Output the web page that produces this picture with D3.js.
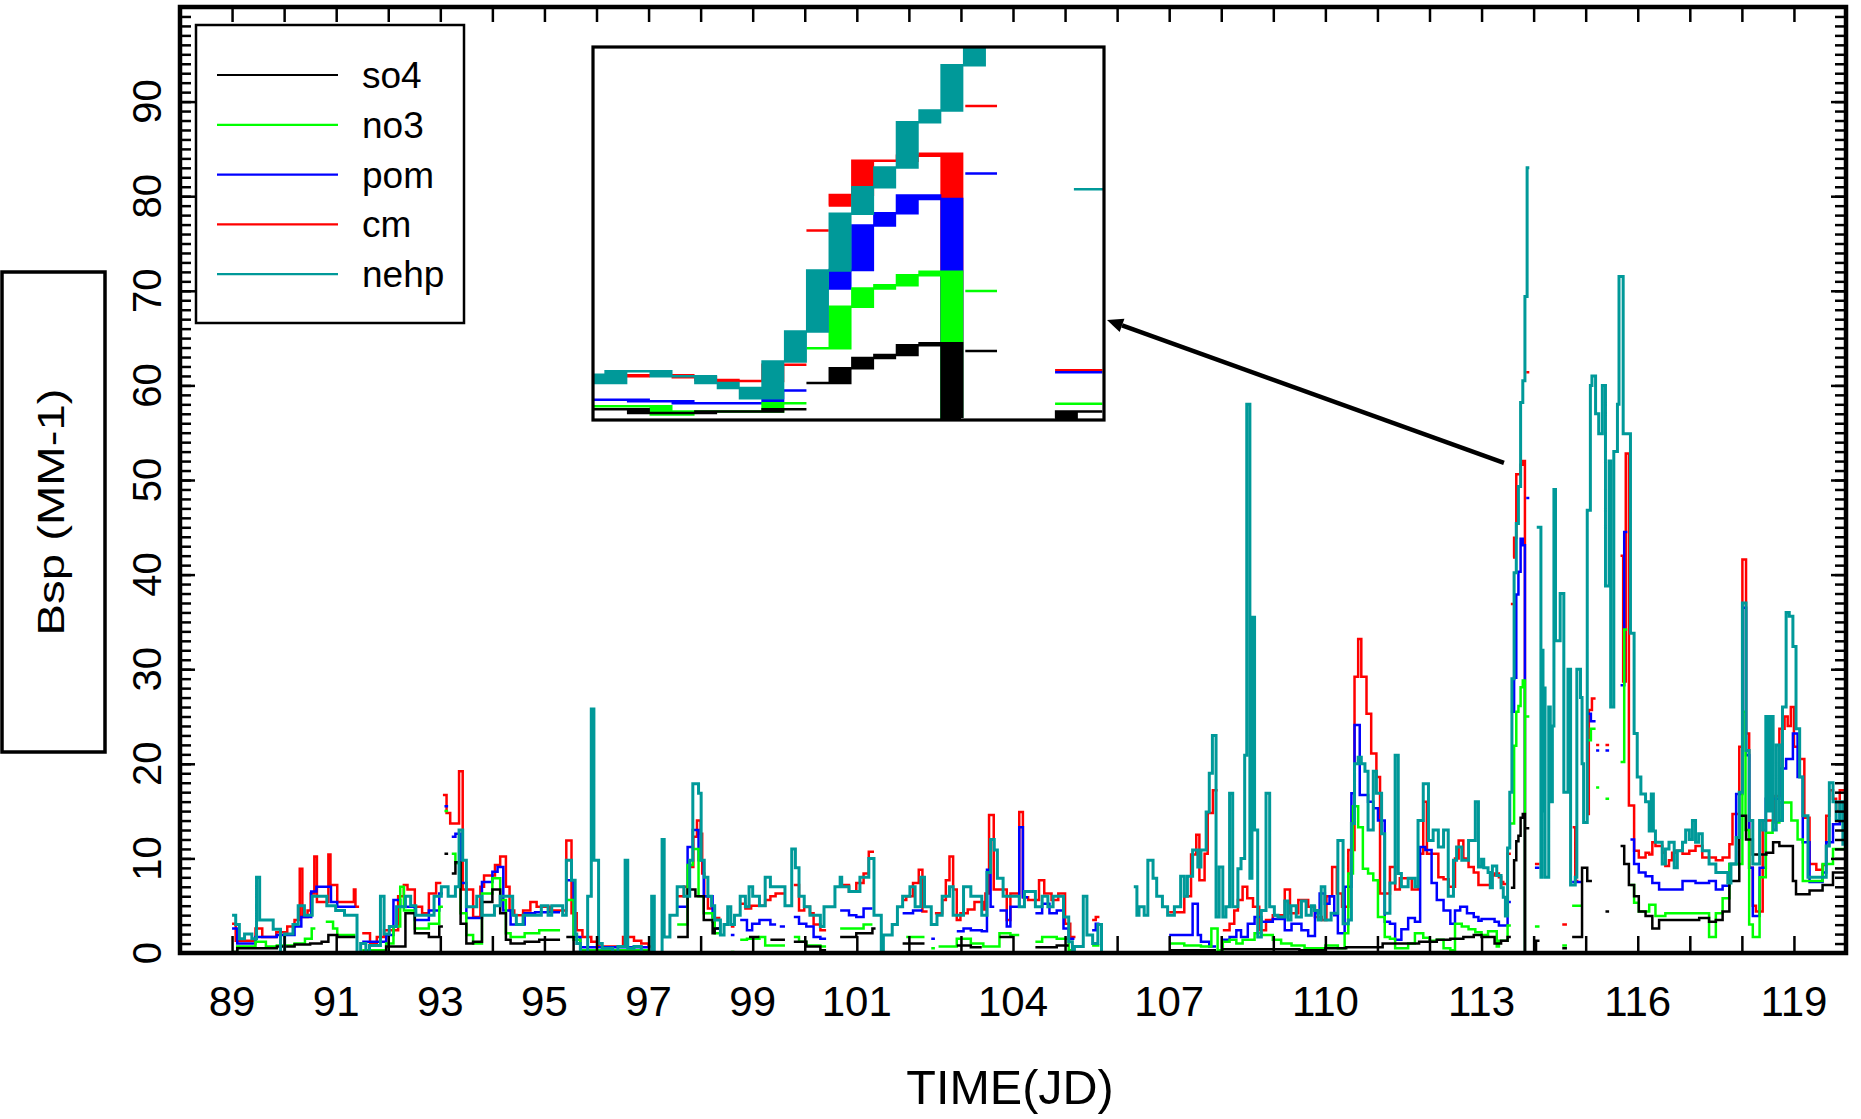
<!DOCTYPE html>
<html>
<head>
<meta charset="utf-8">
<script src="https://cdn.jsdelivr.net/npm/d3@7"></script>
<style>
  html, body { margin: 0; padding: 0; background: #fff; }
  svg { display: block; }
  text { font-family: "Liberation Sans", Arial, Helvetica, sans-serif; fill: #000; }
</style>
</head>
<body>
<svg id="chart" width="1861" height="1119"></svg>
<script>
// ---- series definitions ----
const seriesNames  = ["so4", "no3", "pom", "cm", "nehp"];
const seriesColors = ["#000000", "#00ff00", "#0000ff", "#ff0000", "#009999"];

// ---- axis labels ----
const xTickLabels = [89, 91, 93, 95, 97, 99, 101, 104, 107, 110, 113, 116, 119];
const yTickLabels = [0, 10, 20, 30, 40, 50, 60, 70, 80, 90];
const xTitle = "TIME(JD)";
const yTitle = "Bsp (MM-1)";

// ---- data: [julian day, Bsp]; each value holds until the next entry, null starts a gap ----
const so4 = [
  [89.00,0.1],[89.10,0.5],[89.86,0.7],[90.20,0.9],[90.50,1.0],[90.72,1.2],[90.85,1.9],[91.02,1.7],[91.37,null],
  [91.50,0.1],[91.96,0.7],[92.33,4.2],[92.51,2.1],[92.78,1.7],[92.98,2.8],[93.05,null],[93.08,10.5],[93.15,null],
  [93.22,8.4],[93.29,9.6],[93.39,3.1],[93.50,1.0],[93.63,1.2],[93.80,5.4],[94.00,6.7],[94.15,4.2],[94.26,1.4],
  [94.35,1.0],[94.62,1.2],[94.90,1.4],[95.30,null],[95.42,1.7],[95.56,0.1],[97.00,null],[97.55,1.7],[97.75,6.7],
  [97.90,6.0],[98.06,3.5],[98.23,2.1],[98.27,2.6],[98.38,null],[98.93,1.7],[99.13,null],[99.34,1.4],[99.62,null],
  [99.79,1.2],[100.03,0.7],[100.30,0.3],[100.41,null],[100.68,1.7],[100.99,2.1],[101.30,2.6],[101.36,null],
  [101.88,1.0],[102.30,null],[102.92,0.8],[103.19,0.6],[103.40,null],[103.74,1.7],[104.00,null],[104.43,0.6],
  [104.84,0.8],[105.07,null],[107.00,0.3],[107.90,null],[108.03,0.4],[109.50,0.3],[110.00,0.5],[110.40,0.6],
  [111.10,1.0],[111.80,1.2],[112.14,1.4],[112.40,1.5],[112.65,1.7],[112.85,1.9],
  [113.000,1.7],[113.250,1.0],[113.375,1.3],[113.500,1.7],[113.5625,null],[113.5625,6.9],[113.625,9.8],
  [113.667,11.8],[113.708,12.4],[113.750,14.3],[113.792,14.7],[113.833,0],[113.850,null],[113.858,13.2],[113.917,null],
  [114.025,0],[114.046,1.3],[114.113,null],[114.55,0.5],[114.64,null],[114.74,1.7],[114.93,9.0],[115.03,7.6],
  [115.12,null],[115.38,4.4],[115.45,null],[115.67,11.3],[115.74,9.4],[115.83,7.2],[115.93,6.0],[116.02,4.4],
  [116.15,3.9],[116.28,2.6],[116.41,3.5],[116.66,3.5],[116.92,3.5],[117.18,3.7],[117.37,3.3],[117.50,3.5],
  [117.63,4.4],[117.76,7.6],[117.95,14.5],[118.08,12.0],[118.21,10.4],[118.47,10.6],[118.60,11.7],[118.72,11.3],
  [118.98,7.6],[119.04,6.2],[119.30,6.6],[119.55,7.2],[119.75,8.5],[119.97,null]
];

const no3 = [
  [89.00,0.1],[89.10,0.7],[89.45,1.2],[89.65,0.7],[89.86,0.8],[90.20,1.0],[90.40,1.5],[90.53,2.6],[90.60,null],
  [90.80,3.3],[90.94,2.6],[91.02,1.9],[91.37,null],[91.50,0.3],[91.96,1.0],[92.10,2.8],[92.23,7.0],[92.30,4.5],
  [92.51,2.6],[92.78,3.1],[92.98,4.9],[93.05,null],[93.08,15.0],[93.15,null],[93.22,10.5],[93.29,9.5],[93.39,4.2],
  [93.50,1.9],[93.63,1.0],[93.80,6.3],[94.00,7.9],[94.15,5.6],[94.26,2.1],[94.35,1.7],[94.62,2.1],[94.90,2.4],
  [95.30,null],[95.42,5.6],[95.56,1.4],[95.69,0.3],[97.00,null],[97.55,3.0],[97.75,9.3],[97.85,11.0],[97.96,6.0],
  [98.06,4.2],[98.23,3.3],[98.27,2.1],[98.38,null],[98.58,0.1],[98.65,null],[98.76,1.4],[98.89,1.5],[99.13,1.7],
  [99.24,0.8],[99.62,null],[99.79,1.7],[99.89,1.2],[100.03,0.8],[100.30,0.7],[100.41,null],[100.68,2.6],
  [100.99,2.6],[101.13,3.0],[101.30,null],[101.95,1.7],[102.30,null],[102.43,0.5],[102.50,null],[102.57,0.7],
  [102.92,1.5],[103.19,1.0],[103.43,0.7],[103.74,2.1],[103.95,1.9],[104.12,null],[104.43,1.2],[104.56,1.7],
  [104.84,1.5],[105.07,0.3],[105.18,null],[105.52,0.8],[105.66,null],[107.00,1.0],[107.29,0.8],[107.61,0.7],
  [107.81,2.6],[107.93,0.3],[108.03,1.2],[108.16,1.4],[108.29,1.0],[108.41,1.4],[108.64,2.1],[108.77,1.9],
  [108.99,1.4],[109.15,1.0],[109.35,0.8],[109.60,0.5],[110.00,0.8],[110.24,0.5],[110.37,2.1],[110.44,8.4],
  [110.53,15.5],[110.63,13.3],[110.72,8.9],[110.82,8.4],[110.92,7.7],[111.01,3.8],[111.14,1.7],[111.24,1.5],
  [111.34,0.5],[111.59,1.0],[111.72,2.1],[111.88,1.6],[112.00,1.3],[112.14,1.4],[112.27,0.5],[112.40,0.3],
  [112.49,3.1],[112.62,2.8],[112.75,2.5],[112.88,2.2],
  [113.000,1.9],[113.125,2.3],[113.292,0.7],[113.333,1.3],[113.500,2.9],[113.5625,null],[113.5625,13.7],
  [113.625,21.9],[113.667,25.5],[113.708,26.1],[113.750,28.1],[113.792,28.8],[113.833,0],[113.850,null],
  [113.858,25.0],[113.917,null],
  [114.025,2.8],[114.113,null],[114.55,0.8],[114.64,null],[114.74,5.0],[114.93,null],[115.03,22.5],[115.10,23.7],
  [115.19,null],[115.20,17.5],[115.26,null],[115.38,16.3],[115.45,null],[115.67,20.2],[115.74,34.2],[115.80,null],
  [115.86,7.2],[115.93,5.3],[116.02,4.4],[116.22,5.1],[116.34,3.9],[116.53,4.2],[116.79,4.2],[116.99,4.2],
  [117.37,1.7],[117.50,4.2],[117.63,5.8],[117.76,9.4],[118.01,25.5],[118.07,13.0],[118.14,3.0],[118.21,1.7],
  [118.34,8.0],[118.46,12.7],[118.59,13.8],[118.72,15.9],[118.85,15.9],[118.95,14.0],[119.07,12.0],[119.17,7.6],
  [119.30,7.6],[119.55,9.4],[119.75,11.0],[119.97,null]
];

const pom = [
  [89.00,2.6],[89.10,1.0],[89.45,1.7],[89.86,1.9],[90.20,2.8],[90.33,3.8],[90.52,6.5],[90.62,7.0],[90.90,5.4],
  [91.02,4.9],[91.37,null],[91.50,1.2],[91.96,1.9],[92.10,5.6],[92.23,4.9],[92.51,3.5],[92.78,4.5],[92.98,6.3],
  [93.05,null],[93.08,15.5],[93.15,null],[93.22,12.3],[93.29,12.6],[93.39,7.4],[93.50,3.7],[93.80,7.5],[94.00,8.6],
  [94.10,9.1],[94.21,4.5],[94.35,3.0],[94.62,4.2],[94.82,4.3],[95.30,null],[95.42,7.7],[95.56,1.7],[95.69,0.6],
  [97.00,null],[97.55,4.9],[97.75,11.2],[97.85,13.0],[97.96,9.8],[98.06,6.0],[98.23,3.8],[98.27,2.6],[98.38,null],
  [98.58,1.9],[98.65,null],[98.76,3.5],[98.89,2.4],[98.99,3.1],[99.13,3.5],[99.34,3.0],[99.45,null],[99.52,2.8],
  [99.62,null],[99.79,3.8],[99.89,3.1],[100.03,2.8],[100.17,1.7],[100.30,1.5],[100.41,null],[100.68,4.5],
  [100.85,4.0],[100.99,3.8],[101.13,4.7],[101.30,null],[101.88,4.2],[102.08,4.5],[102.26,null],[102.43,1.5],
  [102.50,null],[102.92,2.3],[103.05,2.6],[103.19,2.4],[103.40,2.3],[103.50,8.8],[103.57,4.9],[103.64,null],
  [103.74,4.5],[103.88,2.8],[103.95,4.9],[104.12,13.3],[104.19,5.9],[104.29,null],[104.43,4.2],[104.56,5.2],
  [104.70,4.2],[104.84,4.5],[104.97,2.6],[105.07,1.5],[105.18,null],[105.52,2.4],[105.59,3.1],[105.66,null],
  [107.00,1.9],[107.45,5.2],[107.55,1.9],[107.61,1.2],[107.77,0.7],[107.90,null],[108.03,1.4],[108.16,1.7],
  [108.29,2.4],[108.38,1.7],[108.51,3.1],[108.64,3.8],[108.77,3.3],[108.99,3.6],[109.22,2.4],[109.35,3.1],
  [109.54,2.4],[109.67,1.8],[109.80,4.2],[109.89,6.3],[109.99,5.2],[110.08,6.0],[110.17,4.0],[110.24,2.1],
  [110.37,7.0],[110.50,16.9],[110.56,24.1],[110.66,16.7],[110.82,16.0],[110.92,15.3],[111.01,14.0],[111.14,3.3],
  [111.24,3.1],[111.34,1.4],[111.46,2.5],[111.59,3.7],[111.72,3.3],[111.82,11.2],[111.92,10.9],[112.04,7.4],
  [112.14,5.6],[112.27,4.5],[112.40,3.1],[112.49,4.5],[112.59,4.9],[112.72,4.2],[112.85,3.8],[112.94,3.4],
  [113.000,3.6],[113.250,3.3],[113.333,2.9],[113.500,5.4],[113.5625,null],[113.5625,25.5],[113.625,29.1],
  [113.667,37.9],[113.708,40.3],[113.750,43.8],[113.792,43.1],[113.833,0],[113.850,null],[113.858,48.1],[113.917,null],
  [114.025,9.0],[114.113,null],[114.74,7.5],[114.93,null],[115.03,25.3],[115.10,24.5],[115.19,null],[115.20,21.4],
  [115.26,null],[115.38,21.4],[115.45,null],[115.67,28.3],[115.74,44.5],[115.80,null],[115.86,12.0],[115.93,9.4],
  [116.02,8.5],[116.15,8.1],[116.28,7.4],[116.41,6.7],[116.60,6.7],[116.86,7.6],[117.11,7.4],[117.37,7.6],
  [117.50,6.7],[117.63,7.1],[117.76,9.4],[117.89,16.8],[118.01,36.5],[118.08,20.9],[118.14,9.0],[118.21,3.9],
  [118.34,9.0],[118.46,16.3],[118.59,16.3],[118.72,19.5],[118.85,20.5],[118.98,23.2],[119.07,18.6],[119.17,11.7],
  [119.30,7.5],[119.55,8.5],[119.62,11.7],[119.75,13.6],[119.88,14.9],[119.97,null]
];

const cm = [
  [89.00,3.1],[89.07,1.3],[89.45,2.6],[89.58,1.7],[89.85,2.2],[90.06,2.8],[90.20,3.5],[90.30,8.9],[90.35,3.8],
  [90.45,4.5],[90.51,6.3],[90.58,10.2],[90.63,5.4],[90.85,10.4],[90.89,7.2],[91.02,5.4],[91.34,6.7],[91.37,4.9],
  [91.44,null],[91.50,2.1],[91.65,1.0],[91.78,1.7],[91.92,2.4],[92.19,6.0],[92.30,7.2],[92.37,6.7],[92.51,4.9],
  [92.65,4.2],[92.78,6.3],[92.92,7.4],[93.02,null],[93.05,16.7],[93.12,14.8],[93.19,13.7],[93.36,19.2],[93.43,6.7],
  [93.63,3.8],[93.77,7.0],[93.84,8.2],[94.05,9.3],[94.15,10.2],[94.26,7.0],[94.33,4.5],[94.42,4.0],[94.59,4.5],
  [94.73,5.4],[94.85,4.9],[95.11,4.5],[95.42,11.9],[95.52,4.2],[95.62,2.4],[95.73,1.7],[95.90,1.2],[96.04,0.7],
  [96.51,1.7],[96.72,1.3],[96.86,1.0],[97.00,0.7],[97.10,null],[97.56,6.0],[97.68,7.0],[97.79,9.1],[97.86,12.3],
  [97.93,14.0],[98.00,12.6],[98.03,8.4],[98.07,6.0],[98.14,4.7],[98.27,3.7],[98.38,null],[98.58,2.8],[98.65,null],
  [98.76,5.2],[98.86,4.7],[98.97,5.0],[99.24,5.6],[99.34,6.0],[99.44,6.3],[99.62,null],[99.79,7.2],[99.89,4.5],
  [99.99,4.9],[100.10,4.2],[100.17,3.0],[100.30,2.4],[100.41,null],[100.68,7.2],[100.85,6.5],[100.99,7.4],
  [101.13,8.4],[101.23,10.7],[101.33,null],[101.88,5.6],[101.95,6.0],[102.08,7.4],[102.19,8.8],[102.26,4.4],
  [102.36,null],[102.50,4.2],[102.64,5.6],[102.71,7.7],[102.78,10.2],[102.85,6.7],[102.92,3.5],[102.99,4.2],
  [103.13,4.6],[103.26,5.4],[103.43,4.6],[103.47,6.3],[103.54,14.6],[103.63,6.7],[103.88,3.5],[103.95,6.3],
  [104.12,14.9],[104.19,5.9],[104.29,5.6],[104.50,7.7],[104.60,6.3],[104.74,5.6],[104.87,6.3],[105.00,3.1],
  [105.10,1.7],[105.20,null],[105.52,3.5],[105.59,3.8],[105.66,null],[107.00,4.3],[107.29,6.0],[107.42,10.4],
  [107.52,12.5],[107.58,7.7],[107.68,10.5],[107.74,14.8],[107.84,17.2],[107.93,null],[108.03,2.4],[108.16,3.1],
  [108.25,4.5],[108.32,5.6],[108.41,7.0],[108.50,5.8],[108.61,4.9],[108.73,2.4],[108.86,3.5],[108.99,4.0],
  [109.22,6.7],[109.32,4.2],[109.48,5.6],[109.67,4.9],[109.80,3.8],[109.93,3.5],[110.02,6.0],[110.13,9.1],
  [110.22,6.3],[110.32,4.9],[110.44,10.9],[110.56,29.2],[110.63,33.2],[110.69,29.2],[110.79,25.3],[110.88,21.1],
  [110.98,18.6],[111.05,6.3],[111.24,9.1],[111.34,6.7],[111.43,7.9],[111.66,6.7],[111.79,10.5],[111.88,16.0],
  [111.95,10.5],[112.17,8.0],[112.27,7.8],[112.37,7.0],[112.49,10.0],[112.56,11.9],[112.65,10.0],[112.75,9.1],
  [112.85,8.5],[112.94,7.2],
  [113.000,7.2],[113.167,8.2],[113.250,8.4],[113.333,8.0],[113.375,7.5],[113.417,7.3],[113.500,10.5],
  [113.5625,null],[113.5625,36.9],[113.604,null],[113.604,41.8],[113.625,43.9],[113.667,50.6],[113.750,51.6],
  [113.792,52.0],[113.833,0],[113.850,null],[113.858,61.4],[113.917,null],
  [114.025,9.4],[114.113,null],[114.55,3.0],[114.64,null],[114.75,13.3],[114.80,7.6],[114.86,null],[115.01,14.7],
  [115.06,25.7],[115.12,26.9],[115.19,null],[115.20,22.0],[115.26,null],[115.38,22.0],[115.45,null],[115.67,42.0],
  [115.72,28.7],[115.77,52.8],[115.83,15.6],[115.93,10.8],[116.02,10.1],[116.15,10.6],[116.22,10.4],[116.28,11.7],
  [116.34,11.3],[116.47,10.6],[116.53,9.2],[116.60,9.8],[116.66,10.6],[116.73,10.8],[116.86,10.5],[116.99,10.8],
  [117.11,11.3],[117.24,10.1],[117.37,10.1],[117.50,9.8],[117.63,10.1],[117.76,11.5],[117.82,14.7],[117.95,21.8],
  [118.01,41.6],[118.08,23.2],[118.14,9.0],[118.21,5.0],[118.27,4.4],[118.40,14.0],[118.53,14.0],[118.62,16.6],
  [118.72,23.7],[118.82,25.0],[118.88,24.0],[118.94,26.0],[119.00,21.8],[119.10,20.5],[119.20,14.3],[119.30,9.4],
  [119.43,8.8],[119.55,9.3],[119.62,14.5],[119.68,17.2],[119.75,16.3],[119.81,15.0],[119.88,17.2],[119.97,null]
];

const nehp = [
  [89.00,4],[89.07,3],[89.14,1.5],[89.24,2],[89.38,1.5],[89.47,8],[89.53,3.5],[89.79,2.5],[89.93,0],[90.01,2],
  [90.17,3],[90.27,5],[90.39,4],[90.54,6],[90.82,5],[90.99,4.5],[91.16,4],[91.40,0],[91.47,1],[91.57,0],[91.64,0.8],
  [91.85,6],[91.92,2],[92.02,2.8],[92.16,4.9],[92.33,6],[92.43,5],[92.53,4],[92.88,6],[93.02,7],[93.15,6],[93.29,7],
  [93.36,13],[93.43,9.8],[93.50,4.9],[93.70,6],[93.80,4],[94.04,5],[94.15,6],[94.39,4],[94.46,3],[94.59,4],[94.94,5],
  [95.07,4],[95.14,5],[95.35,4],[95.42,9.8],[95.52,7.7],[95.59,2],[95.62,1],[95.69,0],[95.83,6],[95.90,25.8],
  [95.95,9.8],[96.04,1],[96.11,0.5],[96.31,0],[96.41,0.7],[96.55,9.8],[96.60,0.5],[96.72,0.7],[96.86,0],[97.06,6],
  [97.11,0],[97.26,12],[97.30,1.7],[97.41,4],[97.55,7],[97.68,6],[97.79,9.8],[97.85,17.9],[97.96,16.9],
  [98.01,9.8],[98.07,8],[98.14,6],[98.21,5],[98.27,3.5],[98.38,1.9],[98.45,3],[98.52,4.9],[98.58,3],[98.65,4],
  [98.76,6],[98.86,4.9],[98.93,7],[99.00,6],[99.13,5],[99.24,8],[99.34,7],[99.62,5],[99.75,11],[99.82,9],[99.89,6],
  [99.99,4.9],[100.10,4],[100.30,2.8],[100.37,4.9],[100.58,7],[100.68,8],[100.71,7],[100.85,6.5],[101.06,8],
  [101.23,10],[101.33,4],[101.47,0],[101.51,1.9],[101.68,3],[101.78,4.9],[101.88,6],[102.02,7],[102.12,4.9],
  [102.23,8],[102.30,4.9],[102.43,3],[102.54,4],[102.64,6],[102.78,7],[102.85,4],[103.05,7],[103.19,6],[103.40,4],
  [103.50,8.5],[103.57,12],[103.64,10.9],[103.70,7.9],[103.81,6],[104.12,4.9],[104.22,6.5],[104.43,4.9],[104.56,6],
  [104.67,4.9],[104.77,6],[104.97,3.8],[105.07,1.2],[105.14,0],[105.18,0.7],[105.35,6],[105.42,1.9],[105.53,1],
  [105.63,3],[105.70,0],[105.77,null],
  [106.32,7],[106.38,4],[106.42,4.9],[106.52,4],[106.59,9.8],[106.69,7.9],[106.76,6],[106.87,4.9],[106.97,4],
  [107.10,4.9],[107.22,8.1],[107.29,6],[107.35,8.1],[107.45,10.9],[107.55,9.1],[107.61,10.9],[107.71,14.9],
  [107.77,19],[107.83,23],[107.90,3.8],[107.96,9.1],[108.03,3.8],[108.09,4.9],[108.16,16.9],[108.22,4.9],
  [108.32,8.9],[108.38,10],[108.45,20.9],[108.49,58],[108.55,7.9],[108.59,35.5],[108.64,13],[108.70,1.7],
  [108.77,4.5],[108.86,16.9],[108.93,4.9],[109.02,4],[109.09,3.8],[109.22,5.5],[109.28,3.5],[109.34,5],
  [109.44,3.8],[109.54,5.5],[109.63,4],[109.73,5],[109.79,4.5],[109.86,3.5],[109.92,7],[109.99,3.5],[110.11,4.2],
  [110.24,11.9],[110.34,3.1],[110.44,3.5],[110.50,13.7],[110.56,20],[110.63,20.7],[110.69,20],[110.76,19.2],
  [110.82,13],[110.92,19.2],[110.98,16.9],[111.08,12.6],[111.14,4.2],[111.24,7.4],[111.34,20.9],[111.40,8.4],
  [111.46,7],[111.59,7.9],[111.72,7],[111.78,14],[111.88,17.9],[111.98,11.9],[112.07,13],[112.17,11.2],
  [112.27,13],[112.36,6],[112.46,9.8],[112.52,11.2],[112.62,9.8],[112.75,11.9],[112.88,16],[112.94,9.1],
  [113.000,9.9],[113.042,9.0],[113.125,8.5],[113.167,6.9],[113.208,9.2],[113.292,8.2],[113.375,6.9],[113.417,5.9],
  [113.458,3.9],[113.500,11.1],[113.542,17],[113.583,29],[113.625,40.2],[113.667,45.4],[113.708,49.3],
  [113.750,58.2],[113.792,60.5],[113.833,69.4],[113.875,83],[113.917,null],
  [114.060,45],[114.14,8],[114.16,32],[114.18,15],[114.20,28],[114.22,8],[114.29,26],[114.32,16],[114.36,24],
  [114.39,49],[114.42,33],[114.51,38],[114.58,17],[114.66,30],[114.71,7.2],[114.80,8],[114.83,30],[114.90,27],
  [114.93,20],[114.96,13.8],[115.03,46.8],[115.09,60],[115.12,61],[115.19,57],[115.25,54.9],[115.32,60],
  [115.38,38.8],[115.45,52],[115.48,26],[115.54,53],[115.61,58],[115.64,71.5],[115.72,54.9],[115.80,54.9],
  [115.86,33.8],[115.93,23.2],[115.99,18.6],[116.06,16.8],[116.15,16],[116.22,12.9],[116.26,16.8],[116.30,12.9],
  [116.34,11.7],[116.47,9.4],[116.53,11],[116.60,11.7],[116.70,9],[116.76,10.8],[116.86,11.7],[116.92,13],
  [116.99,12],[117.05,14],[117.11,11.7],[117.17,12.6],[117.24,10.8],[117.37,9.4],[117.50,8.5],[117.73,7.4],
  [117.79,9.4],[117.89,12.2],[117.95,17],[118.01,37],[118.08,21.4],[118.14,14],[118.21,9.4],[118.34,14],
  [118.40,13],[118.46,25],[118.50,15],[118.55,25],[118.60,13],[118.66,22],[118.72,14],[118.78,26],[118.85,36],
  [118.91,35.6],[118.98,32.4],[119.04,23.7],[119.11,18.6],[119.17,14.5],[119.27,8],[119.55,8],[119.62,11.3],
  [119.68,18],[119.75,16],[119.81,14],[119.88,16],[119.94,11.5],[119.97,null]
];

const seriesData = [so4, no3, pom, cm, nehp];
// Cumulative components are painted largest first so the smaller ones stay visible; nehp goes on top.
const drawOrder = [3, 2, 1, 0, 4];

// ---- layout ----
const svg = d3.select("#chart");
const plot = { left: 180, right: 1846, top: 7, bottom: 953 };
const x = d3.scaleLinear().domain([88, 120]).range([plot.left, plot.right]);
const y = d3.scaleLinear().domain([0, 100]).range([plot.bottom, plot.top]);

// Expand step records into points for a step-after line with gaps
function stepPoints(rec) {
  const pts = [];
  for (let i = 0; i < rec.length; i++) {
    const [t, v] = rec[i];
    if (v == null) {
      if (i > 0 && rec[i - 1][1] != null) pts.push({ t, v: rec[i - 1][1] });
      pts.push({ t, v: null });
    } else {
      pts.push({ t, v });
    }
  }
  return pts;
}

const defs = svg.append("defs");
defs.append("clipPath").attr("id", "plotClip")
  .append("rect").attr("x", plot.left).attr("y", plot.top)
  .attr("width", plot.right - plot.left).attr("height", plot.bottom - plot.top);

// ---- main series ----
const mainLine = d3.line()
  .defined(d => d.v != null)
  .x(d => x(d.t)).y(d => y(d.v))
  .curve(d3.curveStepAfter);

const gMain = svg.append("g").attr("clip-path", "url(#plotClip)");
drawOrder.forEach(i => {
  gMain.append("path")
    .attr("d", mainLine(stepPoints(seriesData[i])))
    .attr("fill", "none")
    .attr("stroke", seriesColors[i])
    .attr("stroke-width", i === 4 ? 3 : 2.5);
});

// ---- axes (ticks point inward) ----
function styleAxis(g) {
  g.select(".domain").remove();
  g.selectAll(".tick line").attr("stroke", "#000").attr("stroke-width", 2.5);
  g.selectAll(".tick text").remove();
}
const minorY = d3.range(0, 101, 1);
const majorY = d3.range(0, 101, 10);
const days = d3.range(88, 121, 1);

svg.append("g").attr("transform", `translate(${plot.left},0)`)
  .call(d3.axisLeft(y).tickValues(minorY).tickSize(-11)).call(styleAxis);
svg.append("g").attr("transform", `translate(${plot.left},0)`)
  .call(d3.axisLeft(y).tickValues(majorY).tickSize(-15)).call(styleAxis);
svg.append("g").attr("transform", `translate(${plot.right},0)`)
  .call(d3.axisRight(y).tickValues(minorY).tickSize(-11)).call(styleAxis);
svg.append("g").attr("transform", `translate(${plot.right},0)`)
  .call(d3.axisRight(y).tickValues(majorY).tickSize(-15)).call(styleAxis);
svg.append("g").attr("transform", `translate(0,${plot.bottom})`)
  .call(d3.axisBottom(x).tickValues(days).tickSize(-17)).call(styleAxis);
svg.append("g").attr("transform", `translate(0,${plot.top})`)
  .call(d3.axisTop(x).tickValues(days).tickSize(-15)).call(styleAxis);

// frame
svg.append("rect")
  .attr("x", plot.left).attr("y", plot.top)
  .attr("width", plot.right - plot.left).attr("height", plot.bottom - plot.top)
  .attr("fill", "none").attr("stroke", "#000").attr("stroke-width", 4.5);

// tick labels
svg.append("g").selectAll("text").data(xTickLabels).join("text")
  .attr("x", d => x(d)).attr("y", 1016)
  .attr("text-anchor", "middle").attr("font-size", 42)
  .text(d => d);

svg.append("g").selectAll("text").data(yTickLabels).join("text")
  .attr("transform", d => `translate(161,${y(d)}) rotate(-90)`)
  .attr("text-anchor", "middle").attr("font-size", 40)
  .text(d => d);

// axis titles
svg.append("text")
  .attr("x", 1010).attr("y", 1104)
  .attr("text-anchor", "middle").attr("font-size", 48.5)
  .text(xTitle);

svg.append("rect")
  .attr("x", 2).attr("y", 272).attr("width", 103).attr("height", 480)
  .attr("fill", "none").attr("stroke", "#000").attr("stroke-width", 3.5);
svg.append("text")
  .attr("transform", "translate(64,512) rotate(-90)")
  .attr("text-anchor", "middle").attr("font-size", 37)
  .attr("textLength", 247).attr("lengthAdjust", "spacingAndGlyphs")
  .text(yTitle);

// ---- legend ----
const legend = svg.append("g");
legend.append("rect")
  .attr("x", 196).attr("y", 25).attr("width", 268).attr("height", 298)
  .attr("fill", "#fff").attr("stroke", "#000").attr("stroke-width", 2.5);
seriesNames.forEach((name, i) => {
  const ly = 75 + i * 49.8;
  legend.append("line")
    .attr("x1", 217).attr("x2", 338).attr("y1", ly).attr("y2", ly)
    .attr("stroke", seriesColors[i]).attr("stroke-width", 2.2);
  legend.append("text")
    .attr("x", 362).attr("y", ly + 13)
    .attr("font-size", 37)
    .text(name);
});

// ---- magnified inset of the day-113 rise ----
const inset = { left: 593, top: 47, right: 1104, bottom: 420 };
const insetDays = [113.1655, 114.116];
const insetRange = [0, 73];
const stretchX = 9.2;        // horizontal magnification applied to the stroke as well

defs.append("clipPath").attr("id", "insetClip")
  .append("rect").attr("x", inset.left).attr("y", inset.top)
  .attr("width", inset.right - inset.left).attr("height", inset.bottom - inset.top);

svg.append("rect")
  .attr("x", inset.left).attr("y", inset.top)
  .attr("width", inset.right - inset.left).attr("height", inset.bottom - inset.top)
  .attr("fill", "#fff");

const xi = d3.scaleLinear().domain(insetDays)
  .range([inset.left / stretchX, inset.right / stretchX]);
const yi = d3.scaleLinear().domain(insetRange).range([inset.bottom - 2, inset.top]);
const insetLine = d3.line()
  .defined(d => d.v != null)
  .x(d => xi(d.t)).y(d => yi(d.v))
  .curve(d3.curveStepAfter);

const gInset = svg.append("g").attr("clip-path", "url(#insetClip)")
  .append("g").attr("transform", `scale(${stretchX},1)`);
drawOrder.forEach(i => {
  const pts = stepPoints(seriesData[i]).filter(d => d.t >= insetDays[0] - 0.3 && d.t <= insetDays[1] + 0.3);
  gInset.append("path")
    .attr("d", insetLine(pts))
    .attr("fill", "none")
    .attr("stroke", seriesColors[i])
    .attr("stroke-width", 2.5);
});

svg.append("rect")
  .attr("x", inset.left).attr("y", inset.top)
  .attr("width", inset.right - inset.left).attr("height", inset.bottom - inset.top)
  .attr("fill", "none").attr("stroke", "#000").attr("stroke-width", 3.2);

// ---- arrow from the peak to the inset ----
const arrowFrom = [x(113.43), y(51.8)];
const arrowTo = [inset.right + 3, 320];
const dx = arrowTo[0] - arrowFrom[0], dy = arrowTo[1] - arrowFrom[1];
const len = Math.hypot(dx, dy), ux = dx / len, uy = dy / len;
const headLen = 16, headHalf = 7;
const base = [arrowTo[0] - ux * headLen, arrowTo[1] - uy * headLen];
svg.append("line")
  .attr("x1", arrowFrom[0]).attr("y1", arrowFrom[1])
  .attr("x2", base[0]).attr("y2", base[1])
  .attr("stroke", "#000").attr("stroke-width", 4.5);
svg.append("path")
  .attr("d", `M${arrowTo[0]},${arrowTo[1]}L${base[0] - uy * headHalf},${base[1] + ux * headHalf}L${base[0] + uy * headHalf},${base[1] - ux * headHalf}Z`)
  .attr("fill", "#000");
</script>
</body>
</html>
